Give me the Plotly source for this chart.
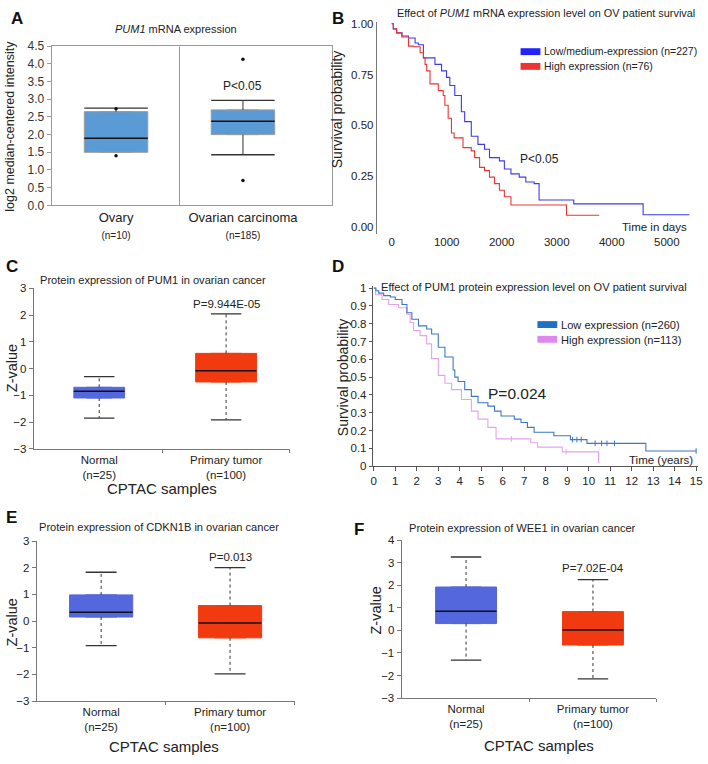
import plotly.graph_objects as go

# ---------------- DATA ----------------
# Panel A: PUM1 mRNA expression (Oncomine-like box plot)
a_cats = ["Ovary", "Ovarian carcinoma"]
a_n = ["(n=10)", "(n=185)"]
a_q1 = [1.5, 2.0]
a_med = [1.9, 2.38]
a_q3 = [2.65, 2.7]
a_lo = [None, 1.43]
a_hi = [2.75, 2.97]
a_out = [[2.73, 1.4], [4.13, 0.7]]
a_p = "P<0.05"

# Panel B: KM curves, PUM1 mRNA (time in days)
b_low_t = [0, 30, 90, 186, 306, 426, 486, 577, 787, 907, 997, 1057, 1147, 1267, 1327, 1447, 1568,
           1688, 1778, 1958, 2048, 2168, 2318, 2438, 2589, 2679, 3309, 4570, 5411]
b_low_s = [1.0, 0.975, 0.955, 0.94, 0.93, 0.905, 0.897, 0.832, 0.80, 0.768, 0.736, 0.696, 0.647, 0.567,
           0.518, 0.446, 0.406, 0.382, 0.341, 0.325, 0.285, 0.261, 0.245, 0.221, 0.213, 0.132, 0.113,
           0.06, 0.06]
b_high_t = [0, 30, 90, 186, 306, 396, 517, 577, 607, 637, 697, 847, 937, 967, 1027, 1087, 1135, 1297,
            1447, 1508, 1598, 1688, 1778, 1868, 1958, 2048, 2168, 3177, 3772]
b_high_s = [1.0, 0.975, 0.955, 0.935, 0.89, 0.887, 0.857, 0.832, 0.80, 0.768, 0.704, 0.671, 0.647,
            0.599, 0.535, 0.462, 0.438, 0.39, 0.374, 0.341, 0.293, 0.277, 0.245, 0.213, 0.18, 0.148,
            0.108, 0.057, 0.057]
b_names = ["Low/medium-expression (n=227)", "High expression (n=76)"]
b_xticks = [0, 1000, 2000, 3000, 4000, 5000]
b_yticks = [0.0, 0.25, 0.5, 0.75, 1.0]

# Panel D: KM curves, PUM1 protein (time in years)
d_low_t = [0, 0.1, 0.23, 0.46, 0.77, 1.0, 1.31, 1.54, 1.77, 2.08, 2.46, 2.69, 3.0, 3.31, 3.69, 3.77,
           3.92, 4.23, 4.54, 4.85, 5.31, 5.62, 5.92, 6.54, 6.85, 7.15, 7.46, 8.38, 9.15, 9.92, 12.66, 15.0]
d_low_s = [1.0, 0.985, 0.972, 0.958, 0.95, 0.936, 0.908, 0.862, 0.825, 0.788, 0.77, 0.742, 0.668,
           0.613, 0.54, 0.50, 0.475, 0.43, 0.392, 0.356, 0.337, 0.309, 0.282, 0.264, 0.245, 0.218,
           0.19, 0.171, 0.149, 0.128, 0.085, 0.085]
d_high_t = [0, 0.08, 0.38, 0.69, 1.15, 1.54, 1.69, 1.85, 2.15, 2.46, 2.69, 3.0, 3.31, 3.62, 4.08,
            4.54, 4.85, 5.31, 5.69, 7.3, 7.62, 8.77, 10.46]
d_high_s = [1.0, 0.963, 0.936, 0.908, 0.89, 0.853, 0.807, 0.761, 0.733, 0.687, 0.604, 0.51, 0.466,
            0.43, 0.374, 0.309, 0.264, 0.218, 0.153, 0.131, 0.107, 0.08, 0.033]
d_low_cens_t = [9.25, 9.45, 9.65, 10.3, 10.6, 10.85, 11.2, 15.0]
d_low_cens_s = [0.149, 0.149, 0.149, 0.128, 0.128, 0.128, 0.128, 0.085]
d_high_cens_t = [6.4, 8.95, 10.46]
d_high_cens_s = [0.153, 0.08, 0.033]
d_names = ["Low expression (n=260)", "High expression (n=113)"]
d_xticks = list(range(0, 16))
d_yticks = [0, 0.1, 0.2, 0.3, 0.4, 0.5, 0.6, 0.7, 0.8, 0.9, 1]

# Panels C, E, F: CPTAC protein box plots
cptac_cats = ["Normal<br>(n=25)", "Primary tumor<br>(n=100)"]
c_q1, c_med, c_q3, c_lo, c_hi = [-1.1, -0.5], [-0.85, -0.08], [-0.7, 0.57], [-1.85, -1.92], [-0.3, 2.05]
e_q1, e_med, e_q3, e_lo, e_hi = [0.15, -0.63], [0.33, -0.07], [0.98, 0.58], [-0.92, -1.98], [1.83, 2.0]
f_q1, f_med, f_q3, f_lo, f_hi = [0.3, -0.65], [0.85, 0.02], [1.92, 0.83], [-1.32, -2.15], [3.25, 2.25]
c_p, e_p, f_p = "P=9.944E-05", "P=0.013", "P=7.02E-04"

# ---------------- STYLE ----------------
W, H = 708, 764
FONT = "Liberation Sans, Arial, sans-serif"
BLUE_BOX = "#5567dd"
RED_BOX = "#f23a10"
A_BOX = "#5b9bd5"


def px(x):
    return x / W


def py(y):
    return 1 - y / H


fig = go.Figure()


def axes(ax):
    return ("x", "y") if ax == "1" else ("x" + ax, "y" + ax)


def add_box(ax, pos, q1, med, q3, lo, hi, width, cap, fill, edge, whisk_color, dash):
    xa, ya = axes(ax)
    fig.add_trace(go.Box(x=[pos], q1=[q1], median=[med], q3=[q3], lowerfence=[q1], upperfence=[q3],
                         width=width, fillcolor=fill, line=dict(color=edge, width=1),
                         boxpoints=False, xaxis=xa, yaxis=ya, hoverinfo="skip"))
    wx, wy = [], []
    if hi is not None:
        wx += [pos, pos, None]
        wy += [q3, hi, None]
    if lo is not None:
        wx += [pos, pos, None]
        wy += [q1, lo, None]
    fig.add_trace(go.Scatter(x=wx, y=wy, mode="lines", line=dict(color=whisk_color, width=1, dash=dash),
                             xaxis=xa, yaxis=ya, hoverinfo="skip"))
    cx, cy = [], []
    if hi is not None:
        cx += [pos - cap, pos + cap, None]
        cy += [hi, hi, None]
    if lo is not None:
        cx += [pos - cap, pos + cap, None]
        cy += [lo, lo, None]
    fig.add_trace(go.Scatter(x=cx, y=cy, mode="lines", line=dict(color=whisk_color, width=1.3),
                             xaxis=xa, yaxis=ya, hoverinfo="skip"))
    fig.add_trace(go.Scatter(x=[pos - width / 2, pos + width / 2], y=[med, med], mode="lines",
                             line=dict(color="#111", width=1.5), xaxis=xa, yaxis=ya, hoverinfo="skip"))


# Panel A boxes
for i in range(2):
    add_box("1", i, a_q1[i], a_med[i], a_q3[i], a_lo[i], a_hi[i], 0.5, 0.25, A_BOX, "#9a9a9a", "#333", "solid")
    fig.add_trace(go.Scatter(x=[i] * len(a_out[i]), y=a_out[i], mode="markers",
                             marker=dict(color="#111", size=3.5), hoverinfo="skip"))

# Panels C/E/F
box_sets = [("3", c_q1, c_med, c_q3, c_lo, c_hi, [0.4, 0.48]),
            ("5", e_q1, e_med, e_q3, e_lo, e_hi, [0.49, 0.49]),
            ("6", f_q1, f_med, f_q3, f_lo, f_hi, [0.48, 0.48])]
for ax, q1, med, q3, lo, hi, widths in box_sets:
    for i, col in enumerate([BLUE_BOX, RED_BOX]):
        add_box(ax, i, q1[i], med[i], q3[i], lo[i], hi[i], widths[i], 0.12, col, col, "#333", "dot")

# Panel B curves
fig.add_trace(go.Scatter(x=b_low_t, y=b_low_s, mode="lines", line=dict(color="#3a3af0", width=1.1, shape="hv"),
                         xaxis="x2", yaxis="y2", hoverinfo="skip"))
fig.add_trace(go.Scatter(x=b_high_t, y=b_high_s, mode="lines", line=dict(color="#ec3434", width=1.1, shape="hv"),
                         xaxis="x2", yaxis="y2", hoverinfo="skip"))

# Panel D curves
fig.add_trace(go.Scatter(x=d_high_t, y=d_high_s, mode="lines", line=dict(color="#e6a3ea", width=1.1, shape="hv"),
                         xaxis="x4", yaxis="y4", hoverinfo="skip"))
fig.add_trace(go.Scatter(x=d_low_t, y=d_low_s, mode="lines", line=dict(color="#3d78c6", width=1.1, shape="hv"),
                         xaxis="x4", yaxis="y4", hoverinfo="skip"))
fig.add_trace(go.Scatter(x=d_low_cens_t, y=d_low_cens_s, mode="markers",
                         marker=dict(symbol="line-ns", size=4, line=dict(color="#3d78c6", width=1)),
                         xaxis="x4", yaxis="y4", hoverinfo="skip"))
fig.add_trace(go.Scatter(x=d_high_cens_t, y=d_high_cens_s, mode="markers",
                         marker=dict(symbol="line-ns", size=4, line=dict(color="#e6a3ea", width=1)),
                         xaxis="x4", yaxis="y4", hoverinfo="skip"))

tickfont = dict(family=FONT, size=11.5, color="#222")
base_ax = dict(showgrid=False, zeroline=False, tickfont=tickfont, fixedrange=True)

layout = dict(
    width=W, height=H, margin=dict(l=0, r=0, t=0, b=0), showlegend=False,
    paper_bgcolor="white", plot_bgcolor="white", font=dict(family=FONT, color="#222"),
    # A
    xaxis=dict(base_ax, anchor="y", domain=[px(50), px(333)], range=[-0.508, 1.703], showline=True, mirror=True,
               linecolor="#999", linewidth=1, ticks="", tickvals=[0, 1],
               ticktext=[f"{c}<br><span style='font-size:10px'>{n}</span>" for c, n in zip(a_cats, a_n)],
               tickfont=dict(family=FONT, size=13, color="#222")),
    yaxis=dict(base_ax, anchor="x", domain=[py(202), py(40)], range=[0, 4.5], dtick=0.5, tickformat=".1f",
               showline=True, mirror=True, linecolor="#999", linewidth=1, ticks="outside", ticklen=4,
               tickcolor="#999", tickfont=dict(family=FONT, size=12, color="#333")),
    # B
    xaxis2=dict(base_ax, anchor="y2", domain=[px(378), px(702)], range=[-270, 5568], showline=False, ticks="",
                tickvals=b_xticks),
    yaxis2=dict(base_ax, anchor="x2", domain=[py(231), py(15)], range=[-0.034, 1.01], showline=True,
                linecolor="#777", linewidth=1, ticks="", tickvals=b_yticks,
                ticktext=[f"{v:.2f}" for v in b_yticks]),
    # C
    xaxis3=dict(base_ax, anchor="y3", domain=[px(32), px(290)], range=[-0.516, 1.5], showline=True,
                linecolor="#777", ticks="", tickvals=[0, 1], ticktext=cptac_cats,
                minor=dict(tickvals=[0.5, 1.5], ticks="outside", ticklen=3, tickcolor="#777")),
    yaxis3=dict(base_ax, anchor="x3", domain=[py(450), py(286.7)], range=[-3, 3], dtick=1, showline=True,
                linecolor="#777", ticks="outside", ticklen=4, tickcolor="#777"),
    # D
    xaxis4=dict(base_ax, anchor="y4", domain=[px(374), px(702)], range=[-0.046, 15.09], showline=True,
                linecolor="#555", ticks="outside", ticklen=4, tickcolor="#555", tickvals=d_xticks),
    yaxis4=dict(base_ax, anchor="x4", domain=[py(467.7), py(284)], range=[0, 1.013], showline=True,
                linecolor="#555", ticks="outside", ticklen=3, tickcolor="#555", tickvals=d_yticks,
                ticktext=[f"{v:g}" for v in d_yticks]),
    # E
    xaxis5=dict(base_ax, anchor="y5", domain=[px(35), px(295)], range=[-0.5, 1.5], showline=True,
                linecolor="#777", ticks="", tickvals=[0, 1], ticktext=cptac_cats,
                minor=dict(tickvals=[0.5, 1.5], ticks="outside", ticklen=3, tickcolor="#777")),
    yaxis5=dict(base_ax, anchor="x5", domain=[py(707), py(544)], range=[-3, 3], dtick=1, showline=True,
                linecolor="#777", ticks="outside", ticklen=4, tickcolor="#777"),
    # F
    xaxis6=dict(base_ax, anchor="y6", domain=[px(403), px(660)], range=[-0.508, 1.5], showline=True,
                linecolor="#777", ticks="", tickvals=[0, 1], ticktext=cptac_cats,
                minor=dict(tickvals=[0.5, 1.5], ticks="outside", ticklen=3, tickcolor="#777")),
    yaxis6=dict(base_ax, anchor="x6", domain=[py(704), py(543)], range=[-3, 4], dtick=1, showline=True,
                linecolor="#777", ticks="outside", ticklen=4, tickcolor="#777"),
)
fig.update_layout(**layout)

# divider in panel A
fig.add_shape(type="line", xref="x", yref="y", x0=0.5, x1=0.5, y0=0, y1=4.5, line=dict(color="#999", width=1))

anns = []


def ann(text, x, y, size, bold=False, angle=0, xanchor="center", color="#222"):
    anns.append(dict(text=f"<b>{text}</b>" if bold else text, x=px(x), y=py(y), xref="paper", yref="paper",
                     showarrow=False, xanchor=xanchor, yanchor="middle", textangle=angle,
                     font=dict(family=FONT, size=size, color=color)))


for letter, x, y in [("A", 15, 12), ("B", 339, 12), ("C", 10, 264), ("D", 339, 264), ("E", 10, 520),
                     ("F", 360, 532)]:
    ann(letter, x, y, 17, bold=True, color="#111")

ann("<i>PUM1</i> mRNA expression", 175, 22, 11)
ann("log2 median-centered intensity", 8, 121, 12.5, angle=-90)
ann("Effect of <i>PUM1</i> mRNA expression level on OV patient survival", 549, 6, 10.9)
ann("Survival probability", 338, 104, 14, angle=-90)
ann(b_names[0], 545, 45, 10.5, xanchor="left")
ann(b_names[1], 545, 60, 10.5, xanchor="left")
ann("P<0.05", 542, 155, 12)
ann("Time in days", 658, 224, 11.5)

ann("Protein expression of PUM1 in ovarian cancer", 152, 278, 11.1)
ann("Z-value", 10, 368, 14.5, angle=-90)
ann("CPTAC samples", 161, 490, 15)

ann("Effect of PUM1 protein expression level on OV patient survival", 537, 285, 11.1)
ann("Survival probability", 344, 377, 14, angle=-90)
ann(d_names[0], 562, 324, 11.1, xanchor="left")
ann(d_names[1], 562, 339, 11.1, xanchor="left")
ann("P=0.024", 520, 394, 15.5)
ann("Time (years)", 665, 461, 11.5)

ann("Protein expression of CDKN1B in ovarian cancer", 158, 530, 11.1)
ann("Z-value", 10, 627, 14.5, angle=-90)
ann("CPTAC samples", 163, 753, 15)

ann("Protein expression of WEE1 in ovarian cancer", 525, 531, 11.1)
ann("Z-value", 377, 615, 14.5, angle=-90)
ann("CPTAC samples", 542, 752, 15)

# P-value labels anchored on the upper whisker of the tumour boxes
for xa, ya, hi, txt, shift in [("x", "y", a_hi[1], a_p, 5), ("x3", "y3", c_hi[1], c_p, 2),
                               ("x5", "y5", e_hi[1], e_p, 3), ("x6", "y6", f_hi[1], f_p, 4)]:
    anns.append(dict(text=txt, x=1, y=hi, xref=xa, yref=ya, showarrow=False, yanchor="bottom", yshift=shift,
                     font=dict(family=FONT, size=12 if xa == "x" else 11.5, color="#222")))

fig.update_layout(annotations=anns)

# legend swatches (decoration)
for x0, y0, col in [(523, 42, "#2222ff"), (523, 57, "#ee3333"), (540, 320, "#1f6fc2"), (540, 335, "#dd88ee")]:
    fig.add_shape(type="rect", xref="paper", yref="paper", x0=px(x0), x1=px(x0 + 20), y0=py(y0 + 7), y1=py(y0),
                  fillcolor=col, line=dict(width=0))

fig.write_html("out.html", config={"displayModeBar": False, "staticPlot": True},
               post_script="document.body.style.margin='0';")
